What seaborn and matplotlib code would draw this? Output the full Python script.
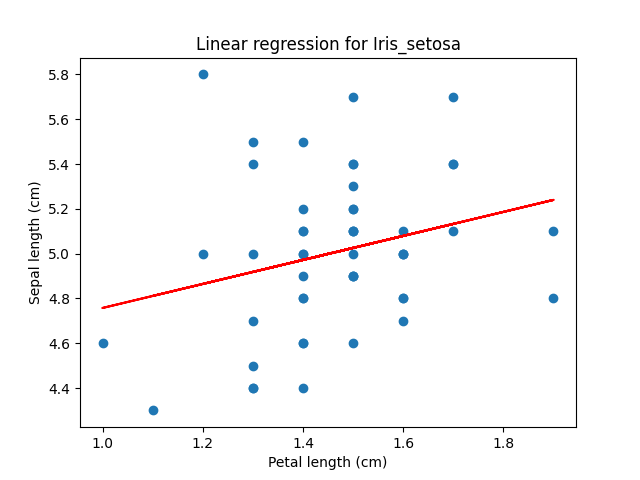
import numpy as np
import matplotlib
matplotlib.use("Agg")
import matplotlib.pyplot as plt
import seaborn as sns

# Iris setosa: petal length vs sepal length
petal_length = [1.4, 1.4, 1.3, 1.5, 1.4, 1.7, 1.4, 1.5, 1.4, 1.5,
                1.5, 1.6, 1.4, 1.1, 1.2, 1.5, 1.3, 1.4, 1.7, 1.5,
                1.7, 1.5, 1.0, 1.7, 1.9, 1.6, 1.6, 1.5, 1.4, 1.6,
                1.6, 1.5, 1.5, 1.4, 1.5, 1.2, 1.3, 1.5, 1.3, 1.5,
                1.3, 1.3, 1.3, 1.6, 1.9, 1.4, 1.6, 1.4, 1.5, 1.4]
sepal_length = [5.1, 4.9, 4.7, 4.6, 5.0, 5.4, 4.6, 5.0, 4.4, 4.9,
                5.4, 4.8, 4.8, 4.3, 5.8, 5.7, 5.4, 5.1, 5.7, 5.1,
                5.4, 5.1, 4.6, 5.1, 4.8, 5.0, 5.0, 5.2, 5.2, 4.7,
                4.8, 5.4, 5.2, 5.5, 4.9, 5.0, 5.5, 4.9, 4.4, 5.1,
                5.0, 4.5, 4.4, 5.0, 5.1, 4.8, 5.1, 4.6, 5.3, 5.0]

x = np.array(petal_length)
y = np.array(sepal_length)
slope, intercept = np.polyfit(x, y, 1)
pred = slope * x + intercept

fig, ax = plt.subplots(figsize=(6.4, 4.8), dpi=100)
sns.scatterplot(x=x, y=y, ax=ax, color="#1f77b4", s=36,
                edgecolor="#1f77b4", linewidth=1.0)
ax.plot(x, pred, color="red")
ax.set_title("Linear regression for Iris_setosa")
ax.set_xlabel("Petal length (cm)")
ax.set_ylabel("Sepal length (cm)")
fig.savefig("out.png")
